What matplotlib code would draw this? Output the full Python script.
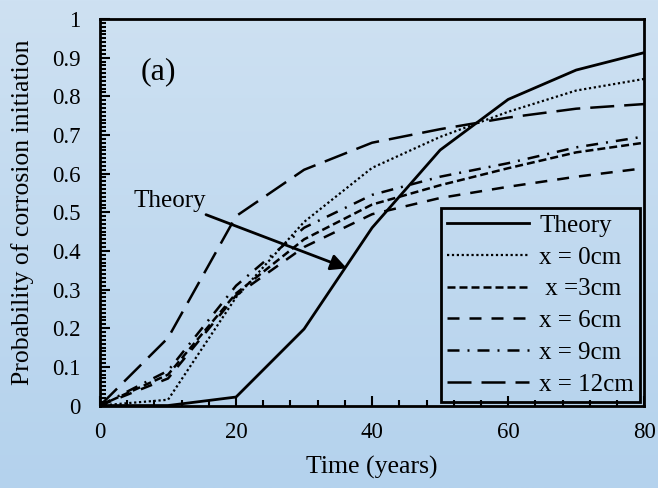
import numpy as np
import matplotlib
matplotlib.use("Agg")
import matplotlib.pyplot as plt
from matplotlib.ticker import MultipleLocator

plt.rcParams['font.family'] = ['Liberation Serif', 'DejaVu Serif']

# time axis (years)
years = [0, 10, 20, 30, 40, 50, 60, 70, 80]

# probability of corrosion initiation
theory = [0.0, 0.0, 0.022, 0.198, 0.46, 0.661, 0.792, 0.868, 0.913]
x0cm   = [0.0, 0.015, 0.28, 0.475, 0.615, 0.695, 0.76, 0.815, 0.845]
x3cm   = [0.0, 0.08, 0.29, 0.43, 0.52, 0.57, 0.614, 0.655, 0.68]
x6cm   = [0.0, 0.07, 0.285, 0.41, 0.495, 0.537, 0.566, 0.592, 0.614]
x9cm   = [0.0, 0.09, 0.31, 0.46, 0.545, 0.592, 0.627, 0.668, 0.696]
x12cm  = [0.0, 0.175, 0.49, 0.61, 0.68, 0.715, 0.745, 0.768, 0.78]

labels = ["Theory", "x = 0cm", " x =3cm", "x = 6cm", "x = 9cm", "x = 12cm"]

fig = plt.figure(figsize=(6.58, 4.88), dpi=100)

# light blue vertical gradient behind everything
bg = fig.add_axes([0, 0, 1, 1], zorder=-10)
top = np.array([206, 225, 242]) / 255.0
bot = np.array([180, 210, 237]) / 255.0
t = np.linspace(0, 1, 256)[:, None]
grad = top[None, :] * (1 - t) + bot[None, :] * t
bg.imshow(grad[:, None, :], aspect='auto', extent=[0, 1, 0, 1])
bg.axis('off')

ax = fig.add_axes([0.152, 0.169, 0.827, 0.792])
ax.patch.set_alpha(0)

lw = 1.8
ax.plot(years, theory, color='black', lw=2.0, ls='-', label=labels[0])
ax.plot(years, x0cm, color='black', lw=1.6, ls=(0, (1, 1.2)), label=labels[1])
ax.plot(years, x3cm, color='black', lw=lw, ls=(0, (3.2, 1.6)), label=labels[2])
ax.plot(years, x6cm, color='black', lw=lw, ls=(0, (4.8, 4.0)), label=labels[3])
ax.plot(years, x9cm, color='black', lw=lw, ls=(0, (4.8, 3.2, 0.8, 3.2)), label=labels[4])
ax.plot(years, x12cm, color='black', lw=lw, ls=(0, (9.6, 4.0)), label=labels[5])

ax.set_xlim(0, 80)
ax.set_ylim(0, 1)
ax.xaxis.set_major_locator(MultipleLocator(20))
ax.xaxis.set_minor_locator(MultipleLocator(4))
ax.yaxis.set_minor_locator(MultipleLocator(0.01))
ax.set_yticks(np.arange(0, 1.01, 0.1))
ax.set_yticklabels(["0"] + ["%.1f" % v for v in np.arange(0.1, 1.0, 0.1)] + ["1"])

ax.tick_params(which='both', direction='in', width=1.5, labelsize=16.5)
ax.tick_params(which='major', length=7)
ax.tick_params(which='minor', length=4)
ax.tick_params(axis='y', which='major', pad=14)
ax.tick_params(axis='x', which='major', pad=12)
for s in ax.spines.values():
    s.set_linewidth(2)

ax.set_xlabel("Time (years)", fontsize=18.5, labelpad=9)
ax.set_ylabel("Probability of corrosion initiation", fontsize=18.5, labelpad=13)

ax.text(5.9, 0.863, "(a)", fontsize=23, va='center', ha='left')
ax.annotate("Theory", xy=(36.3, 0.355), xytext=(15.6, 0.501),
            fontsize=18, ha='right', va='bottom',
            arrowprops=dict(arrowstyle='-|>', color='black', lw=2.0,
                            mutation_scale=24, shrinkA=0, shrinkB=0))

leg = ax.legend(loc='lower right', fontsize=18, handlelength=3.3,
                labelspacing=0.37, borderaxespad=0.15, handletextpad=0.4,
                fancybox=False, edgecolor='black', facecolor='none',
                borderpad=0.25)
leg.get_frame().set_linewidth(2)
leg.get_frame().set_alpha(None)

fig.savefig("out.png", dpi=100)
